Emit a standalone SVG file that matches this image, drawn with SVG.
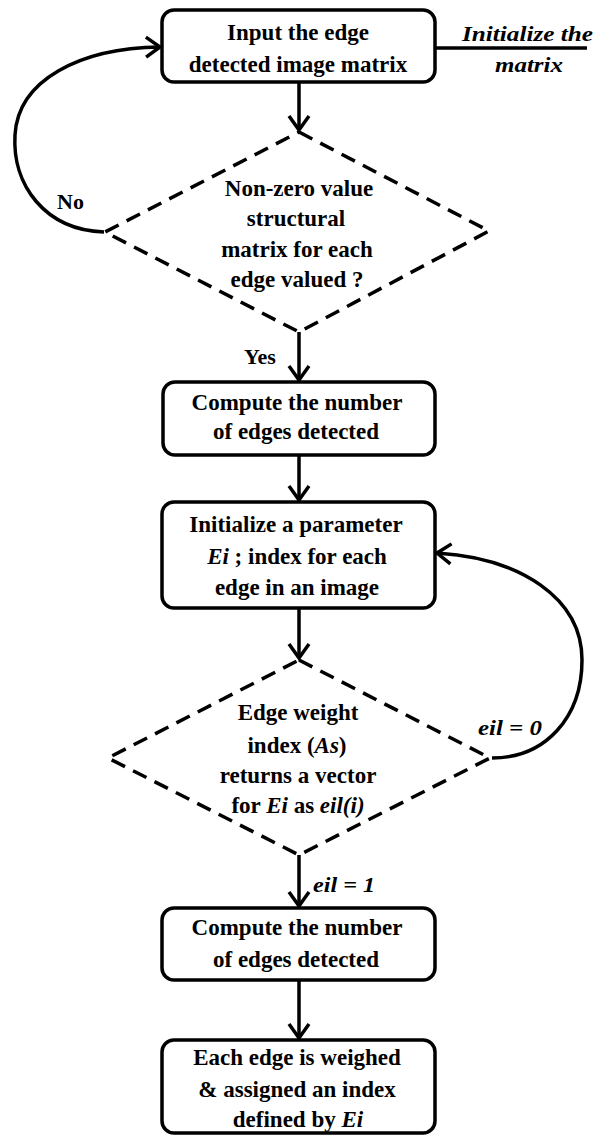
<svg xmlns="http://www.w3.org/2000/svg" width="594" height="1138" viewBox="0 0 594 1138">
<defs>
<marker id="arr" markerUnits="userSpaceOnUse" markerWidth="20" markerHeight="26" refX="16" refY="12" orient="auto">
<path d="M2,2 L16,12 L2,22" fill="none" stroke="#000" stroke-width="3.5" stroke-linejoin="miter"/>
</marker>
</defs>
<style>
.box{fill:#fff;stroke:#000;stroke-width:3.5}
.dia{fill:none;stroke:#000;stroke-width:3.5;stroke-dasharray:15 9}
.t{font-family:"Liberation Serif","Times New Roman",serif;font-weight:bold;font-size:23px;text-anchor:middle;fill:#000}
.lbl{font-family:"Liberation Serif","Times New Roman",serif;font-weight:bold;font-size:22px;fill:#000}
.i{font-style:italic}
.c{fill:none;stroke:#000;stroke-width:3.5}
</style>
<rect width="594" height="1138" fill="#fff"/>
<g id="connectors">
<path class="c" d="M299,82 L299,130" marker-end="url(#arr)"/>
<path class="c" d="M299,332 L299,380" marker-end="url(#arr)"/>
<path class="c" d="M299,455 L299,500" marker-end="url(#arr)"/>
<path class="c" d="M299,608 L299,658" marker-end="url(#arr)"/>
<path class="c" d="M299,855 L299,906" marker-end="url(#arr)"/>
<path class="c" d="M299,980 L299,1038" marker-end="url(#arr)"/>
<path class="c" d="M104,232 C45,230 12,185 15,135 C18,80 80,48 160,47" marker-end="url(#arr)"/>
<path class="c" d="M492,758 C545,758 582,718 582,660 C582,598 520,558 437,553" marker-end="url(#arr)"/>
<path class="c" d="M433,48 L587,48"/>
<text class="lbl" x="57" y="209" font-size="23">No</text>
<text class="lbl" x="244" y="364">Yes</text>
<text class="lbl i" x="462" y="41" textLength="131" lengthAdjust="spacingAndGlyphs">Initialize the</text>
<text class="lbl i" x="495" y="72" textLength="68" lengthAdjust="spacingAndGlyphs">matrix</text>
<text class="lbl i" x="478" y="735" textLength="64" lengthAdjust="spacingAndGlyphs">eil = 0</text>
<text class="lbl i" x="313" y="892" textLength="62" lengthAdjust="spacingAndGlyphs">eil = 1</text>
</g>
<g id="n1">
<rect class="box" x="162" y="10" width="273" height="72" rx="12"/>
<text class="t" x="298" y="40">Input the edge</text>
<text class="t" x="298" y="72">detected image matrix</text>
</g>
<g id="d1">
<polygon class="dia" points="299,132 489,231 299,332 105,232"/>
<text class="t" x="299" y="196">Non-zero value</text>
<text class="t" x="296" y="226">structural</text>
<text class="t" x="297" y="257">matrix for each</text>
<text class="t" x="297" y="287">edge valued ?</text>
</g>
<g id="n2">
<rect class="box" x="163" y="382" width="272" height="73" rx="12"/>
<text class="t" x="297" y="410">Compute the number</text>
<text class="t" x="296" y="439">of edges detected</text>
</g>
<g id="n3">
<rect class="box" x="162" y="502" width="273" height="106" rx="12"/>
<text class="t" x="296" y="532">Initialize a parameter</text>
<text class="t" x="297" y="564"><tspan class="i">Ei </tspan>; index for each</text>
<text class="t" x="297" y="595">edge in an image</text>
</g>
<g id="d2">
<polygon class="dia" points="299,660 490,758 299,855 108,758"/>
<text class="t" x="298" y="720">Edge weight</text>
<text class="t" x="297" y="753">index (<tspan class="i">As</tspan>)</text>
<text class="t" x="298" y="783">returns a vector</text>
<text class="t" x="298" y="813">for <tspan class="i">Ei</tspan> as <tspan class="i">eil(i)</tspan></text>
</g>
<g id="n4">
<rect class="box" x="162" y="908" width="273" height="72" rx="12"/>
<text class="t" x="297" y="935">Compute the number</text>
<text class="t" x="296" y="967">of edges detected</text>
</g>
<g id="n5">
<rect class="box" x="162" y="1040" width="273" height="93" rx="12"/>
<text class="t" x="297" y="1065">Each edge is weighed</text>
<text class="t" x="297" y="1097">&amp; assigned  an index</text>
<text class="t" x="298" y="1127">defined by <tspan class="i">Ei</tspan></text>
</g>
</svg>
